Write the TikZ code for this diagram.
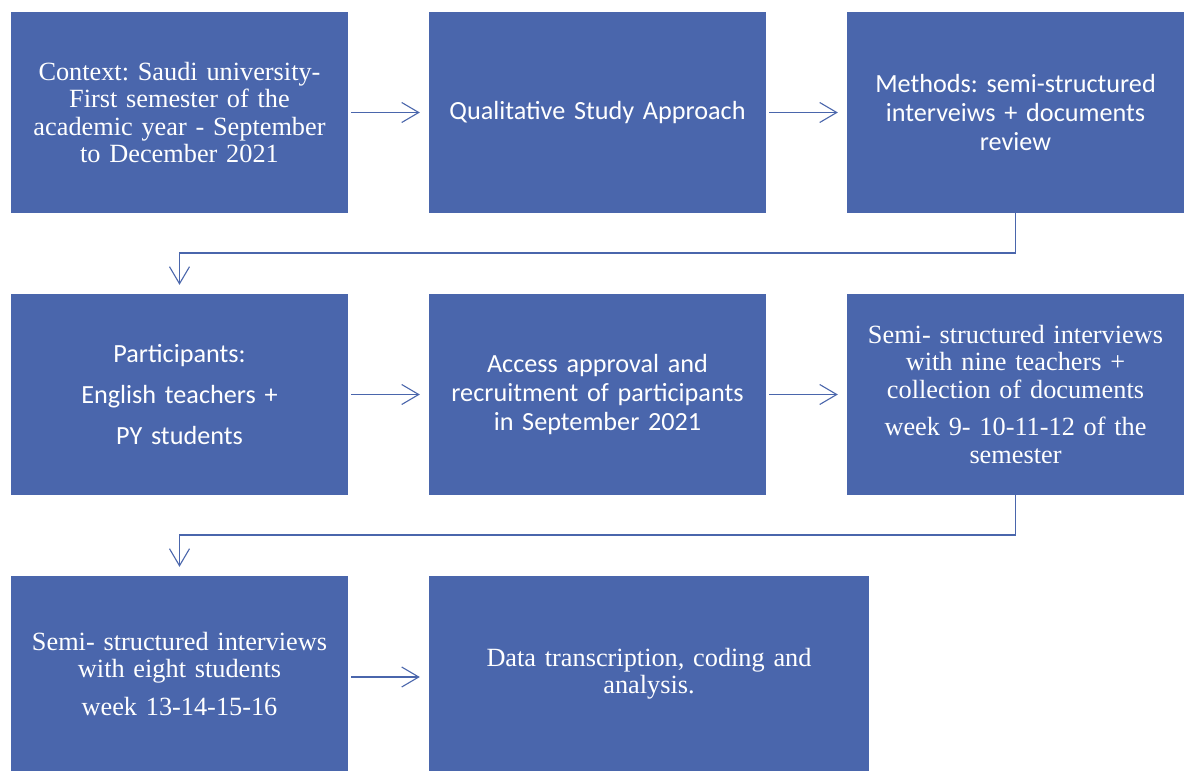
\documentclass[tikz,border=0pt]{standalone}
\usepackage{fontspec}
\setmainfont{Liberation Serif}
\newfontfamily\calibrilike{Carlito}
\usetikzlibrary{arrows.meta}
\definecolor{boxblue}{HTML}{4A66AC}
\frenchspacing
\tikzset{
  stage/.style={fill=boxblue, draw=none, text=white, align=center,
    minimum width=337pt, minimum height=201pt, inner sep=0pt, text width=330pt},
  serifstage/.style={stage, font=\frenchspacing\fontsize{26.3pt}{27.5pt}\selectfont},
  sansstage/.style={stage, font=\frenchspacing\calibrilike\fontsize{26.2pt}{29pt}\selectfont},
  flow/.style={draw=boxblue, line width=1.1pt,
    -{Straight Barb[length=17pt,width=20pt,line width=1.1pt]}},
  across/.style={flow, shorten <=3pt, shorten >=9pt},
}
\begin{document}
\begin{tikzpicture}[x=1pt,y=-1pt]
\useasboundingbox (0,0) rectangle (1184,771);
\fill[white] (0,0) rectangle (1184,771);

% first row
\node[serifstage] (ctx) at (179.5,112.5)
  {Context: Saudi university-\\First semester of the\\academic year - September\\to December 2021};
\node[sansstage] (appr) at (597.5,112.5) {Qualitative Study Approach};
\node[sansstage] (meth) at (1015.5,112.5)
  {Methods: semi-structured\\interveiws + documents\\review};

% second row
\node[sansstage] (part) at (179.5,394.5)
  {Participants:\\[12pt]English teachers +\\[12pt]PY students};
\node[sansstage] (acc) at (597.5,394.5)
  {Access approval and\\recruitment of participants\\in September 2021};
\node[serifstage] (tint) at (1015.5,394.5)
  {Semi- structured interviews\\with nine teachers +\\collection of documents\\[10pt]week 9- 10-11-12 of the\\semester};

% third row
\node[serifstage, minimum height=195pt] (sint) at (179.5,673.5)
  {Semi- structured interviews\\with eight students\\[10pt]week 13-14-15-16};
\node[serifstage, minimum height=195pt, minimum width=440pt, text width=400pt] (data) at (649,673.5)
  {Data transcription, coding and\\analysis.};

% bends of the row-to-row connectors
\coordinate (k1) at (1015.5,253);
\coordinate (k2) at (179.5,253);
\coordinate (k3) at (1015.5,535);
\coordinate (k4) at (179.5,535);

\draw[across] (ctx) -- (appr);
\draw[across] (appr) -- (meth);
\draw[flow, shorten >=9pt] (meth.south) -- (k1) -- (k2) -- (part.north);
\draw[across] (part) -- (acc);
\draw[across] (acc) -- (tint);
\draw[flow, shorten >=9pt] (tint.south) -- (k3) -- (k4) -- (sint.north);
\draw[across] (sint.east |- 0,677) -- (data.west |- 0,677);
\end{tikzpicture}
\end{document}
